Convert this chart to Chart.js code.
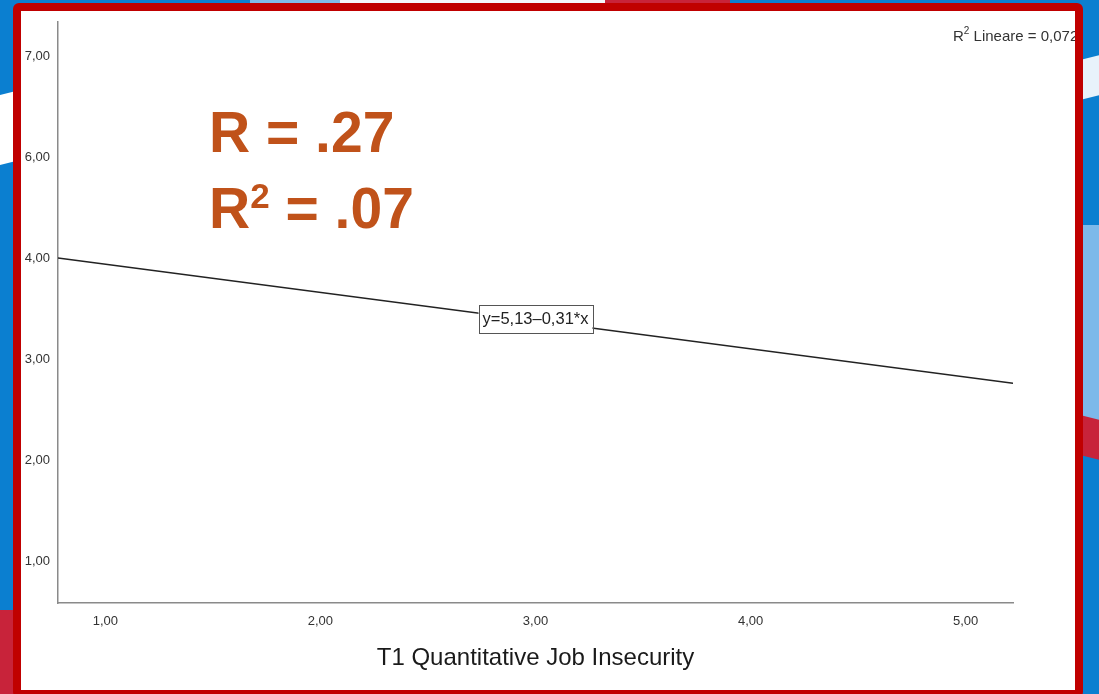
<!doctype html>
<html>
  <head>
    <meta charset="utf-8">
    <title>T1 Quantitative Job Insecurity</title>
    <style>
      html, body {
	  margin: 0;
	  padding: 0;
	  width: 1099px;
	  height: 694px;
	  overflow: hidden;
	  background: #0b7fd0;
	  font-family: "Liberation Sans", Arial, sans-serif;
      }
      .swoosh { position: absolute; }
      #paper {
	  position: absolute;
	  left: 21px; top: 11px;
	  width: 1056px; height: 680px;
	  background: #fff;
      }
      #frame {
	  position: absolute;
	  left: 13px; top: 3px;
	  width: 1054px; height: 679px;
	  border: 8px solid #c00000;
	  border-radius: 6px;
	  z-index: 5;
      }
      #wrap {
	  position: absolute;
	  left: 0; top: 0;
	  width: 1099px; height: 694px;
	  z-index: 2;
      }
      .stat {
	  position: absolute;
	  left: 209px;
	  color: #c0521a;
	  font-weight: bold;
	  font-size: 57px;
	  line-height: 1;
	  z-index: 3;
	  white-space: nowrap;
      }
      .stat sup { font-size: 35px; vertical-align: 20px; line-height: 0; }
      #r2lin {
	  position: absolute;
	  left: 953px; top: 27px;
	  font-size: 15px;
	  color: #333;
	  z-index: 3;
	  white-space: nowrap;
      }
      #r2lin sup { font-size: 10px; vertical-align: 7px; line-height: 0; }
    </style>
    <script src="https://cdn.jsdelivr.net/npm/chart.js@4/dist/chart.umd.min.js"></script>
  </head>
  <body>
    <!-- slide background behind the framed chart -->
    <div class="swoosh" style="left:-60px;top:95px;width:120px;height:70px;background:#fff;transform:skewY(-14deg);"></div>
    <div class="swoosh" style="left:-40px;top:610px;width:60px;height:120px;background:#c8233a;transform:skewX(-8deg);"></div>
    <div class="swoosh" style="left:1070px;top:55px;width:60px;height:40px;background:#e8f2fb;transform:skewY(-14deg);"></div>
    <div class="swoosh" style="left:1070px;top:225px;width:60px;height:210px;background:#7db9ea;"></div>
    <div class="swoosh" style="left:1070px;top:420px;width:60px;height:40px;background:#c8233a;transform:skewY(14deg);"></div>
    <div class="swoosh" style="left:250px;top:0;width:90px;height:4px;background:#80bbe8;"></div>
    <div class="swoosh" style="left:340px;top:0;width:265px;height:4px;background:#f4f8fc;"></div>
    <div class="swoosh" style="left:605px;top:0;width:125px;height:4px;background:#c8233a;"></div>

    <div id="paper"></div>
    <div id="wrap"><canvas id="fitChart" width="1099" height="694"></canvas></div>
    <div class="stat" style="top:104px;">R = .27</div>
    <div class="stat" style="top:180px;">R<sup>2</sup> = .07</div>
    <div id="r2lin">R<sup>2</sup> Lineare = 0,072</div>
    <div id="frame"></div>
  </body>
  <script>
    // fitted line end points (x, y)
    const fitX = [0.78, 5.22];
    const fitY = [4.00, 2.76];
    const xTickValues = [1, 2, 3, 4, 5];
    const yTickValues = [1, 2, 3, 4, 6, 7];
    const xTitle = 'T1 Quantitative Job Insecurity';
    const equationText = 'y=5,13\u20130,31*x';
    const equationAtX = 3.0;

    // the y axis is cut above 4,00: everything over the break sits one unit lower
    const yBreak = 4;
    function toAxis(v) { return v > yBreak ? v - 1 : v; }
    function fromAxis(v) { return v > yBreak ? v + 1 : v; }
    function fmt(v) { return v.toFixed(2).replace('.', ','); }

    const tickFont = { family: '"Liberation Sans", Arial, sans-serif', size: 13 };

    // boxed equation sitting on the fit line
    const equationLabel = {
	id: 'equationLabel',
	afterDatasetsDraw(chart) {
	    const ctx = chart.ctx;
	    const xs = chart.scales.x, ys = chart.scales.y;
	    const t = (equationAtX - fitX[0]) / (fitX[1] - fitX[0]);
	    const yv = fitY[0] + t * (fitY[1] - fitY[0]);
	    const cx = xs.getPixelForValue(equationAtX);
	    const cy = ys.getPixelForValue(toAxis(yv)) - 2;
	    ctx.save();
	    ctx.font = '16.5px "Liberation Sans", Arial, sans-serif';
	    const w = ctx.measureText(equationText).width + 8;
	    const h = 28;
	    ctx.fillStyle = '#fff';
	    ctx.fillRect(cx - w / 2, cy - h / 2, w, h);
	    ctx.strokeStyle = '#555';
	    ctx.lineWidth = 1;
	    ctx.strokeRect(Math.round(cx - w / 2) + 0.5, Math.round(cy - h / 2) + 0.5, Math.round(w), h);
	    ctx.fillStyle = '#222';
	    ctx.textAlign = 'center';
	    ctx.textBaseline = 'middle';
	    ctx.fillText(equationText, cx, cy + 1);
	    ctx.restore();
	}
    };

    new Chart(document.getElementById('fitChart'), {
	type: 'line',
	data: {
	    datasets: [{
		data: fitX.map((x, i) => ({ x: x, y: toAxis(fitY[i]) })),
		borderColor: '#222',
		borderWidth: 1.3,
		pointRadius: 0,
		fill: false,
		tension: 0,
	    }]
	},
	options: {
	    responsive: false,
	    animation: false,
	    layout: { padding: { top: 22, right: 86, left: 0, bottom: 0 } },
	    plugins: { legend: { display: false }, tooltip: { enabled: false } },
	    scales: {
		x: {
		    type: 'linear',
		    min: 0.78,
		    max: 5.22,
		    afterBuildTicks: s => { s.ticks = xTickValues.map(v => ({ value: v })); },
		    afterFit: s => { s.height = 91; },
		    grid: { display: true, drawOnChartArea: false, drawTicks: false },
		    border: { color: '#8a8a8a', width: 1.5 },
		    ticks: { color: '#333', font: tickFont, padding: 11, maxRotation: 0, callback: v => fmt(v) },
		    title: {
			display: true,
			text: xTitle,
			color: '#1a1a1a',
			font: { family: '"Liberation Sans", Arial, sans-serif', size: 24 },
			padding: { top: 0, bottom: 21 }
		    }
		},
		y: {
		    type: 'linear',
		    min: 0.584,
		    max: 6.337,
		    afterBuildTicks: s => { s.ticks = yTickValues.map(v => ({ value: toAxis(v) })); },
		    afterFit: s => { s.width = 58; },
		    grid: { display: true, drawOnChartArea: false, drawTicks: false },
		    border: { color: '#8a8a8a', width: 1.5 },
		    ticks: { color: '#333', font: tickFont, padding: 8, callback: v => fmt(fromAxis(v)) }
		}
	    }
	},
	plugins: [equationLabel]
    });
  </script>
</html>
